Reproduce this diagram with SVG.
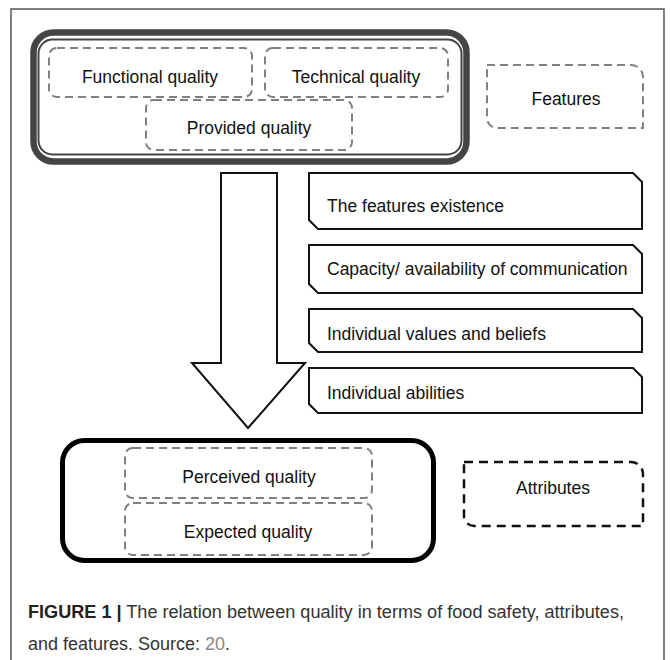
<svg xmlns="http://www.w3.org/2000/svg" width="670" height="660" viewBox="0 0 670 660">
<style>
.t{font-family:"Liberation Sans",Arial,sans-serif;font-size:17.5px;fill:#111}
.c{font-family:"Liberation Sans",Arial,sans-serif;font-size:17.5px;fill:#333}
.dg{fill:none;stroke:#808080;stroke-width:2;stroke-dasharray:8 5}
.db{fill:none;stroke:#111;stroke-width:2.5;stroke-dasharray:9 6}
.bx{fill:#fff;stroke:#111;stroke-width:2}
</style>
<rect x="11" y="9" width="653" height="670" fill="#fff" stroke="#555" stroke-width="1.5"/>

<g id="provided-group">
<rect x="33.5" y="32.5" width="433" height="129" rx="20" fill="#fff" stroke="#444" stroke-width="6.5"/>
<rect x="38.5" y="39.5" width="423" height="115" rx="14" fill="none" stroke="#444" stroke-width="2"/>
</g>
<g id="functional">
<rect class="dg" x="49" y="48" width="203" height="49" rx="8"/>
<text class="t" x="150" y="83" text-anchor="middle">Functional quality</text>
</g>
<g id="technical">
<rect class="dg" x="265" y="48" width="183" height="49" rx="8"/>
<text class="t" x="356" y="83" text-anchor="middle">Technical quality</text>
</g>
<g id="provided">
<rect class="dg" x="146" y="100" width="206" height="50" rx="8"/>
<text class="t" x="249" y="134" text-anchor="middle">Provided quality</text>
</g>
<g id="features">
<path class="dg" d="M487,65 H631 A12,12 0 0 1 643,77 V128 H497 A10,10 0 0 1 487,118 Z"/>
<text class="t" x="566" y="105" text-anchor="middle">Features</text>
</g>

<g id="connectors">
<polygon points="221,173 277,173 277,363 305,363 248,428 192,363 221,363" fill="#fff" stroke="#111" stroke-width="2"/>
</g>

<g id="f1">
<path class="bx" d="M309,173 H633 L642,182 V229 H318 L309,220 Z"/>
<text class="t" x="327" y="212">The features existence</text>
</g>
<g id="f2">
<path class="bx" d="M309,245 H633 L642,254 V293 H318 L309,284 Z"/>
<text class="t" x="327" y="275">Capacity/ availability of communication</text>
</g>
<g id="f3">
<path class="bx" d="M309,309 H633 L642,318 V352 H318 L309,343 Z"/>
<text class="t" x="327" y="340">Individual values and beliefs</text>
</g>
<g id="f4">
<path class="bx" d="M309,368 H633 L642,377 V413 H318 L309,404 Z"/>
<text class="t" x="327" y="399">Individual abilities</text>
</g>

<g id="perceived-group">
<rect x="62.5" y="440.5" width="371" height="120" rx="22" fill="#fff" stroke="#000" stroke-width="5"/>
</g>
<g id="perceived">
<rect class="dg" x="125" y="448" width="247" height="50" rx="8"/>
<text class="t" x="249" y="483" text-anchor="middle">Perceived quality</text>
</g>
<g id="expected">
<rect class="dg" x="125" y="503" width="247" height="52" rx="8"/>
<text class="t" x="248" y="538" text-anchor="middle">Expected quality</text>
</g>
<g id="attributes">
<path class="db" d="M464,462 H631 A12,12 0 0 1 643,474 V526 H474 A10,10 0 0 1 464,516 Z"/>
<text class="t" x="553" y="494" text-anchor="middle">Attributes</text>
</g>

<g id="caption">
<text class="c" x="28" y="618" textLength="596" lengthAdjust="spacingAndGlyphs"><tspan font-weight="bold" fill="#222">FIGURE 1 |</tspan> The relation between quality in terms of food safety, attributes,</text>
<text class="c" x="28" y="650" textLength="202" lengthAdjust="spacingAndGlyphs">and features. Source: <tspan fill="#888">20</tspan>.</text>
</g>
</svg>
